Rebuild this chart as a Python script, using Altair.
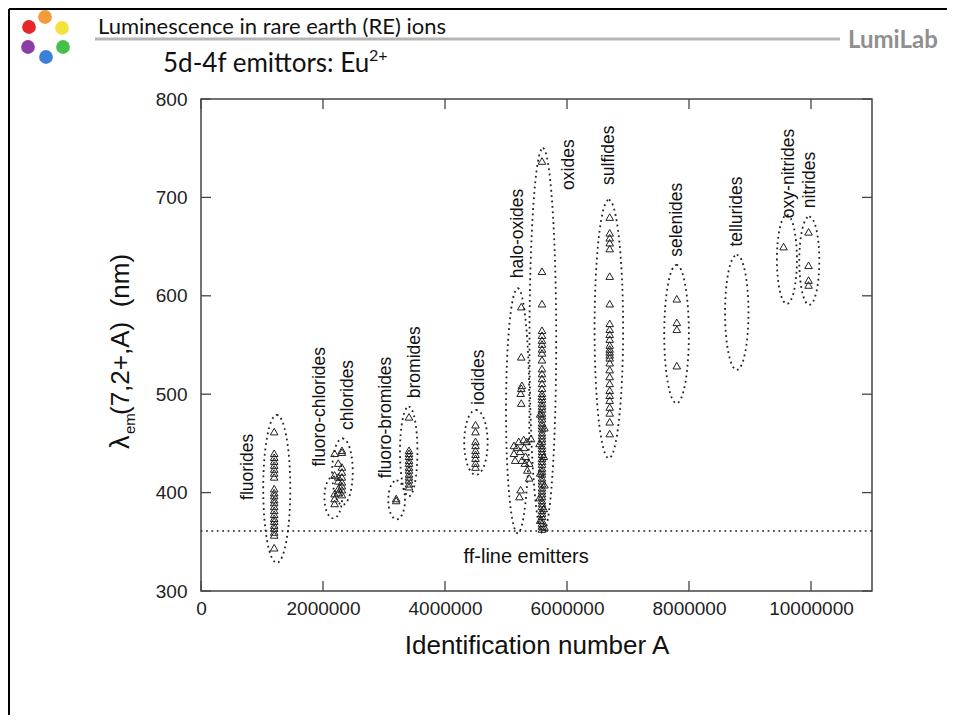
import altair as alt
import pandas as pd

# ---------------- data ----------------
# emission points (Identification number A, wavelength nm)
fluorides_x = [1200000] * 23
fluorides_y = [462, 440, 436, 432, 428, 424, 420, 416, 404, 400, 397, 393, 390, 386,
               382, 378, 374, 371, 367, 364, 360, 357, 344]

fchlor_x = [2190000, 2190000, 2190000, 2190000, 2190000]
fchlor_y = [440, 418, 399, 394, 389]

chlor_x = [2250000, 2250000, 2250000, 2250000, 2250000,
           2310000, 2310000, 2310000, 2310000, 2310000, 2310000, 2310000, 2310000, 2310000]
chlor_y = [430, 416, 412, 404, 400,
           443, 441, 426, 421, 416, 411, 407, 403, 398]

fbrom_x = [3200000, 3200000]
fbrom_y = [394, 392]

brom_x = [3410000] * 13
brom_y = [477, 443, 440, 437, 433, 430, 426, 423, 419, 416, 413, 409, 406]

iod_x = [4500000] * 9
iod_y = [469, 462, 452, 448, 443, 439, 435, 430, 426]

halo_x = [5250000, 5250000, 5260000, 5250000, 5240000, 5250000,
          5130000, 5210000, 5290000, 5340000, 5410000, 5130000, 5150000, 5230000,
          5260000, 5310000, 5320000, 5350000, 5380000, 5380000, 5240000, 5220000,
          5180000, 5300000]
halo_y = [589, 538, 509, 506, 501, 491,
          448, 452, 454, 452, 455, 440, 433, 442,
          433, 430, 437, 423, 415, 430, 403, 396,
          446, 446]

ox_x = [5590000] * 16 + [5590000] * 42 + [5560000, 5630000, 5550000, 5620000, 5560000,
                                          5630000, 5550000, 5620000, 5560000, 5630000]
ox_y = [737, 625, 592, 565, 560, 555, 551, 546, 542, 535, 526, 521, 516, 511, 506, 501,
        498, 495, 491, 488, 485, 481, 478, 475, 471, 468, 465, 461, 458, 455, 452, 448,
        445, 442, 439, 435, 432, 429, 425, 422, 419, 415, 412, 409, 405, 402, 399, 396,
        392, 389, 386, 382, 379, 376, 372, 369, 366, 363,
        480, 466, 450, 437, 420, 408, 395, 384, 372, 365]

sulf_x = [6700000] * 27
sulf_y = [680, 664, 659, 654, 648, 620, 592, 572, 566, 561, 556, 550, 546, 543, 540,
          537, 532, 525, 518, 511, 504, 499, 494, 487, 481, 472, 460]

selen_x = [7800000] * 4
selen_y = [597, 573, 566, 529]

oxynit_x = [9550000]
oxynit_y = [650]

nitr_x = [9960000] * 4
nitr_y = [665, 631, 616, 611]

# group ellipses: name, centre A, centre nm, half-width A, half-height nm
ell_name = ["fluorides", "fluoro-chlorides", "chlorides", "fluoro-bromides", "bromides",
            "iodides", "halo-oxides", "oxides", "sulfides", "selenides", "tellurides",
            "oxy-nitrides", "nitrides"]
ell_cx = [1242000, 2168000, 2319000, 3207000, 3405000, 4507000, 5192000, 5604000,
          6686000, 7796000, 8783000, 9605000, 9972000]
ell_cy = [403.8, 395.1, 421.3, 392.6, 441.7, 451.0, 483.2, 554.4, 566.2, 561.1, 583.1,
          637.0, 635.6]
ell_rx = [222000, 145000, 169000, 137000, 143000, 192000, 192000, 219000, 234000,
          202000, 192000, 164000, 164000]
ell_ry = [75.2, 21.3, 33.8, 19.8, 45.7, 33.0, 124.5, 195.6, 131.3, 70.3, 58.4, 45.2, 44.9]

# rotated group labels: text start position (bottom of the text)
lab_x = [778000, 1957000, 2413000, 3038000, 3503000, 4561000, 5203000, 6040000,
         6694000, 7796000, 8794000, 9633000, 9984000]
lab_y = [392.5, 426.4, 463.7, 414.6, 495.9, 489.1, 617.9, 707.6, 712.7, 639.8, 650.0,
         678.9, 689.0]

ff_level = [361]
x_ticks = [0, 2000000, 4000000, 6000000, 8000000, 10000000]
y_ticks = [300, 400, 500, 600, 700, 800]

# ---------------- geometry ----------------
W, H = 671, 492
XMAX = 11000000
YMIN, YMAX = 300, 800
pxA = W / XMAX
pxnm = H / (YMAX - YMIN)

FONT = "Liberation Sans"

xs = alt.Scale(domain=[0, XMAX], nice=False, zero=False)
ys = alt.Scale(domain=[YMIN, YMAX], nice=False, zero=False)


def ellipse_path(k):
    c = 0.5523
    return (f"M 0 -1 C {k*c:.4f} -1 {k:.4f} {-c} {k:.4f} 0 "
            f"C {k:.4f} {c} {k*c:.4f} 1 0 1 "
            f"C {-k*c:.4f} 1 {-k:.4f} {c} {-k:.4f} 0 "
            f"C {-k:.4f} {-c} {-k*c:.4f} -1 0 -1 Z")


rows = []
for nm, cx, cy, rx, ry in zip(ell_name, ell_cx, ell_cy, ell_rx, ell_ry):
    rxp, ryp = rx * pxA, ry * pxnm
    rows.append({"name": nm, "x": cx, "y": cy, "path": ellipse_path(rxp / ryp),
                 "size": (2 * ryp) ** 2})
ell_df = pd.DataFrame(rows)

pts = []
for gx, gy in [(fluorides_x, fluorides_y), (fchlor_x, fchlor_y), (chlor_x, chlor_y),
               (fbrom_x, fbrom_y), (brom_x, brom_y), (iod_x, iod_y), (halo_x, halo_y),
               (ox_x, ox_y), (sulf_x, sulf_y), (selen_x, selen_y),
               (oxynit_x, oxynit_y), (nitr_x, nitr_y)]:
    for a, b in zip(gx, gy):
        pts.append({"x": a, "y": b})
pts_df = pd.DataFrame(pts)

lab_df = pd.DataFrame({"name": ell_name, "x": lab_x, "y": lab_y})
ff_df = pd.DataFrame({"y": ff_level})
ff_txt = pd.DataFrame({"x": [5330000], "y": [335.0], "t": ["ff-line emitters"]})
xt_df = pd.DataFrame({"x": x_ticks})
yt_df = pd.DataFrame({"y": y_ticks})
one = pd.DataFrame({"a": [0]})

# ---------------- layers ----------------
ellipses = alt.Chart(ell_df).mark_point(
    filled=False, stroke="#222", strokeWidth=1.8, strokeDash=[1.8, 3.6], opacity=1
).encode(
    x=alt.X("x:Q", scale=xs,
            axis=alt.Axis(values=x_ticks, format="d", title="Identification number A",
                          grid=False, ticks=False, domain=False, labelFlush=False,
                          labelOverlap=False, labelFontSize=19, labelFont=FONT,
                          labelColor="#222", labelPadding=8, titleFont=FONT,
                          titleFontSize=26, titleFontWeight="normal", titleColor="#111",
                          titlePadding=14)),
    y=alt.Y("y:Q", scale=ys,
            axis=alt.Axis(values=y_ticks, title=None, grid=False, ticks=False,
                          domain=False, labelFlush=False, labelOverlap=False,
                          labelFontSize=19, labelFont=FONT, labelColor="#222",
                          labelPadding=14)),
    shape=alt.Shape("path:N", scale=None),
    size=alt.Size("size:Q", scale=None),
)

points = alt.Chart(pts_df).mark_point(
    shape="triangle-up", filled=False, size=58, stroke="#222", strokeWidth=1, opacity=1
).encode(x="x:Q", y="y:Q")

labels = alt.Chart(lab_df).mark_text(
    angle=270, align="left", baseline="middle", font=FONT, fontSize=17.5, color="#111"
).encode(x="x:Q", y="y:Q", text="name:N")

ff_rule = alt.Chart(ff_df).mark_rule(
    stroke="#222", strokeWidth=1.6, strokeDash=[1.8, 3.6]
).encode(y="y:Q")

ff_label = alt.Chart(ff_txt).mark_text(
    font=FONT, fontSize=20, color="#111", align="center", baseline="middle"
).encode(x="x:Q", y="y:Q", text="t:N")

tick_style = dict(stroke="#444", strokeWidth=1.3)
tb = alt.Chart(xt_df).mark_rule(**tick_style).encode(
    x="x:Q", y=alt.value(H), y2=alt.value(H - 10))
tt = alt.Chart(xt_df).mark_rule(**tick_style).encode(
    x="x:Q", y=alt.value(0), y2=alt.value(10))
tl = alt.Chart(yt_df).mark_rule(**tick_style).encode(
    y="y:Q", x=alt.value(0), x2=alt.value(10))
tr = alt.Chart(yt_df).mark_rule(**tick_style).encode(
    y="y:Q", x=alt.value(W), x2=alt.value(W - 10))

# y-axis title pieces  (lambda, subscript em, rest)
ytitle1 = alt.Chart(one).mark_text(
    text="λ", angle=270, align="left", baseline="middle", font=FONT, fontSize=27,
    color="#111").encode(x=alt.value(-80), y=alt.value(350))
ytitle2 = alt.Chart(one).mark_text(
    text="em", angle=270, align="left", baseline="middle", font=FONT, fontSize=15,
    color="#111").encode(x=alt.value(-71), y=alt.value(335))
ytitle3 = alt.Chart(one).mark_text(
    text="(7,2+,A)\u00a0\u00a0(nm)", angle=270, align="left", baseline="middle",
    font=FONT, fontSize=26, color="#111").encode(x=alt.value(-80), y=alt.value(316))

# header decoration
logo_df = pd.DataFrame({
    "px": [-172, -156, -139, -138, -155, -173],
    "py": [-72, -82, -71, -52, -42, -52],
    "c": ["#e5262b", "#f39a3a", "#f5e23a", "#45c04a", "#3b7fd8", "#8b3ca5"],
})
logo = alt.Chart(logo_df).mark_circle(size=190, opacity=1).encode(
    x=alt.X("px:Q", scale=None), y=alt.Y("py:Q", scale=None),
    color=alt.Color("c:N", scale=None))

head_title = alt.Chart(one).mark_text(
    text="Luminescence in rare earth (RE) ions", align="left", baseline="middle",
    font="Lato", fontSize=22, color="#111").encode(x=alt.value(-103), y=alt.value(-72))
head_line = alt.Chart(one).mark_rule(stroke="#b5b5b5", strokeWidth=3).encode(
    x=alt.value(-106), x2=alt.value(639), y=alt.value(-60))
head_lumi = alt.Chart(one).mark_text(
    text="LumiLab", align="left", baseline="middle", font="Lato", fontSize=24,
    fontWeight="bold", color="#8f8f8f").encode(x=alt.value(647), y=alt.value(-58))
head_sub = alt.Chart(one).mark_text(
    text="5d-4f emittors: Eu", align="left", baseline="middle", font="Lato",
    fontSize=26, color="#111").encode(x=alt.value(-38), y=alt.value(-35))
head_sup = alt.Chart(one).mark_text(
    text="2+", align="left", baseline="middle", font="Lato", fontSize=16,
    color="#111").encode(x=alt.value(168), y=alt.value(-43))

border_top = alt.Chart(one).mark_rule(stroke="#000", strokeWidth=2).encode(
    x=alt.value(-192), x2=alt.value(746), y=alt.value(-90))
border_left = alt.Chart(one).mark_rule(stroke="#000", strokeWidth=2).encode(
    x=alt.value(-192), y=alt.value(-90), y2=alt.value(616))

chart = alt.layer(
    ellipses, points, labels, ff_rule, ff_label, tb, tt, tl, tr,
    ytitle1, ytitle2, ytitle3,
    logo, head_title, head_line, head_lumi, head_sub, head_sup,
    border_top, border_left,
).properties(
    width=W, height=H,
    autosize=alt.AutoSizeParams(type="none"),
    padding={"left": 193, "top": 91, "right": 75, "bottom": 124},
).configure_view(stroke="#444", strokeWidth=1.5)

chart.save("out.html", embed_options={"renderer": "svg", "actions": False})
